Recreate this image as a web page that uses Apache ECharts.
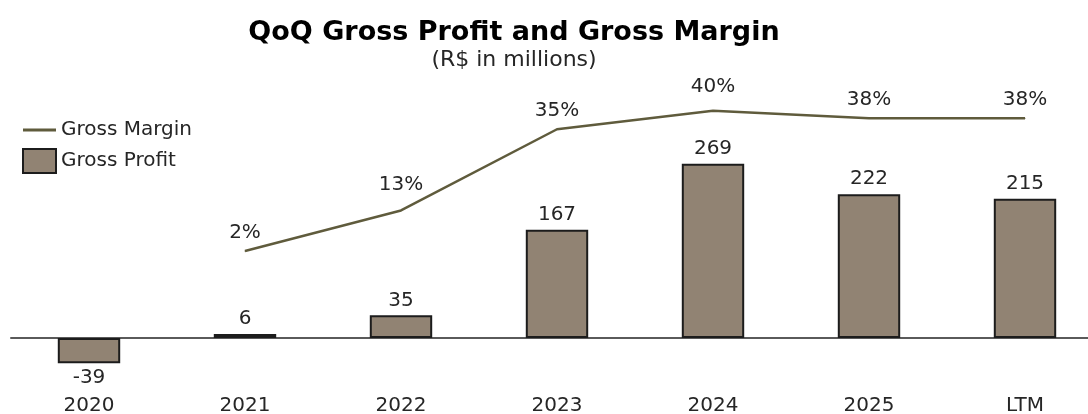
<!DOCTYPE html>
<html>
<head>
<meta charset="utf-8">
<title>QoQ Gross Profit and Gross Margin</title>
<script src="https://cdn.jsdelivr.net/npm/echarts@6/dist/echarts.min.js"></script>
<style>
  html, body { margin: 0; padding: 0; background: #fff; }
  #chart { width: 1088px; height: 414px; }
</style>
</head>
<body>
<div id="chart"></div>
<script>
// values
var years = ['2020', '2021', '2022', '2023', '2024', '2025', 'LTM']
var grossProfit = [-39, 6, 35, 167, 269, 222, 215]   // R$ millions
var grossMargin = [null, 2, 13, 35, 40, 38, 38]      // %

var FONT = 'DejaVu Sans'
var BAR_COLOR = '#918373'
var BAR_BORDER = '#1c1c1c'
var LINE_COLOR = '#5f5b3c'
var TEXT_COLOR = '#262626'
// two of the margin labels sit a little higher in the original
var marginLabelLift = [0, 0, 7, 0, 6, 0, 0]

var chart = echarts.init(document.getElementById('chart'))

var barData = grossProfit.map(function (v) {
  return { value: v, label: { position: v < 0 ? 'bottom' : 'top' } }
})
var lineData = grossMargin.map(function (v, i) {
  if (v == null) return '-'
  return { value: v, label: { distance: 8 + marginLabelLift[i] } }
})

var option = {
  animation: false,
  backgroundColor: '#fff',
  title: {
    text: 'QoQ Gross Profit and Gross Margin',
    subtext: '(R$ in millions)',
    left: 514,
    top: 19,
    textAlign: 'center',
    itemGap: 3,
    padding: 0,
    textStyle: {
      fontFamily: FONT,
      fontWeight: 'bold',
      fontSize: 27,
      color: '#000'
    },
    subtextStyle: {
      fontFamily: FONT,
      fontSize: 22,
      color: TEXT_COLOR
    }
  },
  legend: {
    orient: 'vertical',
    left: 22,
    top: 120,
    itemWidth: 33,
    itemHeight: 24,
    itemGap: 8,
    padding: 0,
    selectedMode: false,
    textStyle: { fontFamily: FONT, fontSize: 20, color: TEXT_COLOR },
    data: [
      {
        name: 'Gross Margin',
        icon: 'path://M0,0H33V3H0Z',
        itemStyle: { color: LINE_COLOR, borderWidth: 0 }
      },
      {
        name: 'Gross Profit',
        icon: 'rect',
        itemStyle: { color: BAR_COLOR, borderColor: BAR_BORDER, borderWidth: 2 }
      }
    ]
  },
  grid: {
    left: 11,
    width: 1092,
    top: 100,
    height: 293,
    outerBoundsMode: 'none',
    containLabel: false
  },
  xAxis: [
    {
      // zero line, no labels
      type: 'category',
      data: years,
      axisTick: { show: false },
      axisLabel: { show: false },
      axisLine: {
        onZero: true,
        onZeroAxisIndex: 0,
        lineStyle: { color: '#5a5a5a', width: 2 }
      }
    },
    {
      // year labels along the bottom
      type: 'category',
      data: years,
      position: 'bottom',
      axisTick: { show: false },
      axisLine: { show: false, onZero: false },
      axisLabel: {
        margin: 3,
        fontFamily: FONT,
        fontSize: 20,
        color: TEXT_COLOR
      }
    }
  ],
  yAxis: [
    { type: 'value', min: -84.9, max: 367.3, show: false, splitLine: { show: false } },
    { type: 'value', min: -36.48, max: 42.93, show: false, splitLine: { show: false } }
  ],
  series: [
    {
      name: 'Gross Profit',
      type: 'bar',
      yAxisIndex: 0,
      barWidth: '40%',
      data: barData,
      itemStyle: { color: BAR_COLOR, borderColor: BAR_BORDER, borderWidth: 2 },
      label: {
        show: true,
        distance: 5,
        fontFamily: FONT,
        fontSize: 20,
        color: TEXT_COLOR
      },
      z: 2
    },
    {
      name: 'Gross Margin',
      type: 'line',
      yAxisIndex: 1,
      data: lineData,
      symbol: 'circle',
      symbolSize: 1,
      clip: false,
      itemStyle: { color: LINE_COLOR },
      lineStyle: { color: LINE_COLOR, width: 2.5 },
      label: {
        show: true,
        position: 'top',
        formatter: '{c}%',
        fontFamily: FONT,
        fontSize: 20,
        color: TEXT_COLOR
      },
      z: 3
    }
  ]
}

chart.setOption(option)
</script>
</body>
</html>
